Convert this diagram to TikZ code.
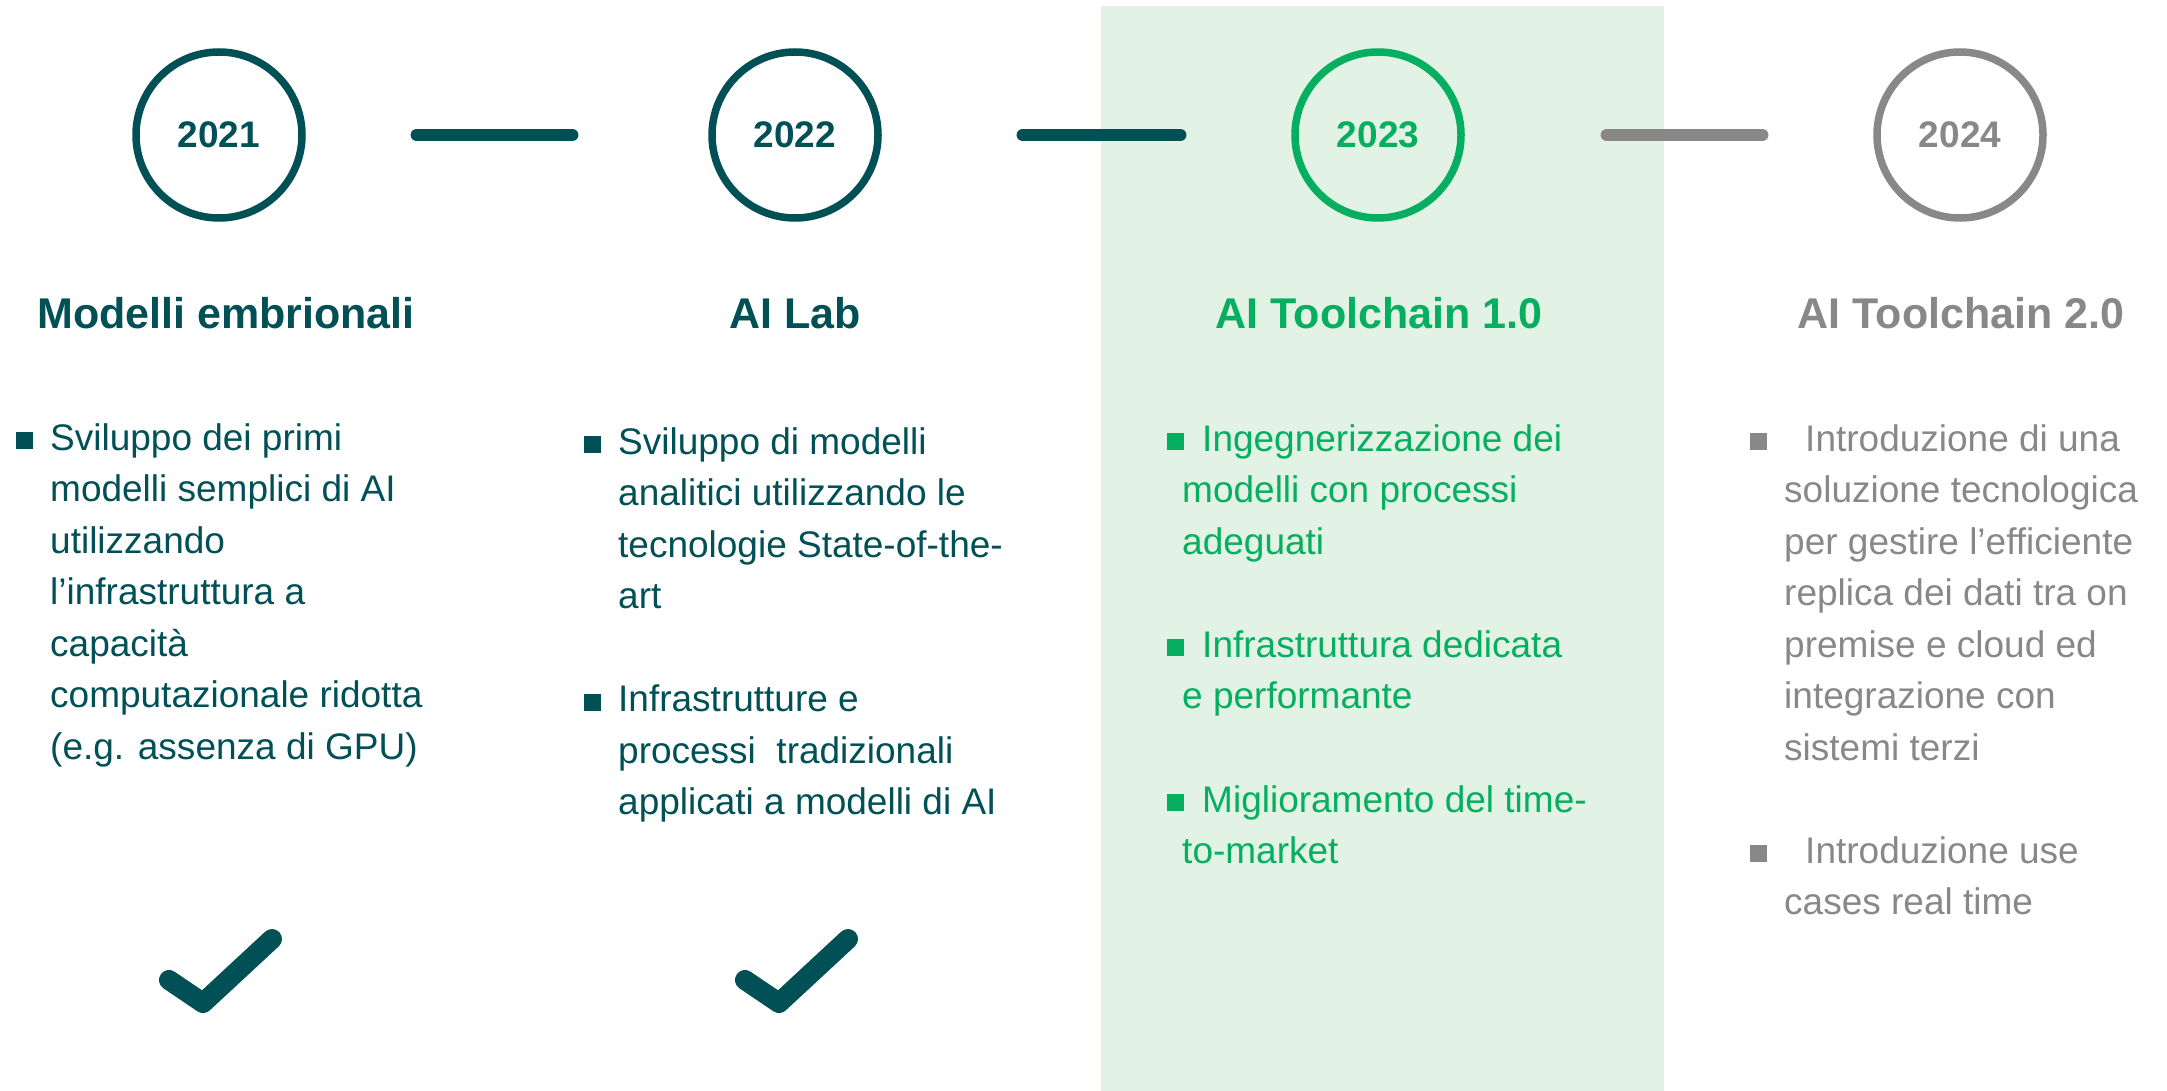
\documentclass[tikz,border=0pt]{standalone}
\usepackage{fontspec}
\setmainfont{Liberation Sans}
\usetikzlibrary{positioning}

\definecolor{tealdark}{RGB}{0,80,86}
\definecolor{greenmid}{RGB}{5,175,95}
\definecolor{greymid}{RGB}{136,136,136}
\definecolor{bandgreen}{RGB}{226,242,228}

\tikzset{
  yearcircle/.style={circle, draw=#1, text=#1, line width=7.5pt, minimum size=166pt,
    inner sep=0pt, font=\bfseries\fontsize{37}{44}\selectfont},
  link/.style={draw=#1, line width=12.4pt, line cap=round},
  phase/.style={text=#1, anchor=base, inner sep=0pt, font=\bfseries\fontsize{43}{50}\selectfont},
  item/.style={text=#1, anchor=north west, yshift=26pt, align=left, inner sep=0pt,
    font=\fontsize{37}{51.5}\selectfont},
  bul/.style={fill=#1, minimum size=17pt, inner sep=0pt, anchor=south west},
  tick/.style={draw=tealdark, line width=20pt, line cap=round, line join=round}
}

\begin{document}
\begin{tikzpicture}[x=1pt,y=-1pt]
\useasboundingbox (0,0) rectangle (2167,1091);

	\fill[bandgreen] (1101,6) rectangle (1664,1091); % current year band

	% years
	\node[yearcircle=tealdark] (y2021) at (219,135) {2021};
	\node[yearcircle=tealdark] (y2022) at (795,135) {2022};
	\node[yearcircle=greenmid] (y2023) at (1378,135) {2023};
	\node[yearcircle=greymid] (y2024) at (1960,135) {2024};

\draw[link=tealdark, shorten <=111pt, shorten >=136pt] (y2021) -- (y2022);
\draw[link=tealdark, shorten <=141pt, shorten >=111pt] (y2022) -- (y2023);
\draw[link=greymid, shorten <=142pt, shorten >=111pt] (y2023) -- (y2024);

	% phase names
	\node[phase=tealdark] (p2021) at (226,328) {Modelli embrionali};
	\node[phase=tealdark] (p2022) at (795,328) {AI Lab};
	\node[phase=greenmid] (p2023) at (1379,328) {AI Toolchain 1.0};
	\node[phase=greymid] (p2024) at (1961,328) {AI Toolchain 2.0};

	% 2021
	\node[bul=tealdark] (b1a) at (16,449) {};
	\node[item=tealdark] (s1a) at (50,449) {Sviluppo dei primi\\modelli semplici di AI\\utilizzando\\l’infrastruttura a\\capacità\\computazionale ridotta\\(e.g. assenza di GPU)};

	% 2022
	\node[bul=tealdark] (b2a) at (584,453) {};
	\node[item=tealdark] (s2a) at (618,453) {Sviluppo di modelli\\analitici utilizzando le\\tecnologie State-of-the-\\art};
	\node[bul=tealdark] (b2b) at (584,711) {};
	\node[item=tealdark] (s2b) at (618,711) {Infrastrutture e\\processi\ \ tradizionali\\applicati a modelli di AI};

	% 2023
	\node[bul=greenmid] (b3a) at (1167,450) {};
	\node[item=greenmid] (s3a) at (1182,450) {\hspace*{20pt}Ingegnerizzazione dei\\modelli con processi\\adeguati};
	\node[bul=greenmid] (b3b) at (1167,656) {};
	\node[item=greenmid] (s3b) at (1182,656) {\hspace*{20pt}Infrastruttura dedicata\\e performante};
	\node[bul=greenmid] (b3c) at (1167,811) {};
	\node[item=greenmid] (s3c) at (1182,811) {\hspace*{20pt}Miglioramento del time-\\to-market};

	% 2024
	\node[bul=greymid] (b4a) at (1750,450) {};
	\node[item=greymid] (s4a) at (1784,450) {\hspace*{21pt}Introduzione di una\\soluzione tecnologica\\per gestire l’efficiente\\replica dei dati tra on\\premise e cloud ed\\integrazione con\\sistemi terzi};
	\node[bul=greymid] (b4b) at (1750,862) {};
	\node[item=greymid] (s4b) at (1784,862) {\hspace*{21pt}Introduzione use\\cases real time};

	% done
	\draw[tick] ([shift={(-50,845)}]y2021.center) -- ++(34,23) -- ++(69,-64);
	\draw[tick] ([shift={(-50,845)}]y2022.center) -- ++(34,23) -- ++(69,-64);

\end{tikzpicture}
\end{document}
